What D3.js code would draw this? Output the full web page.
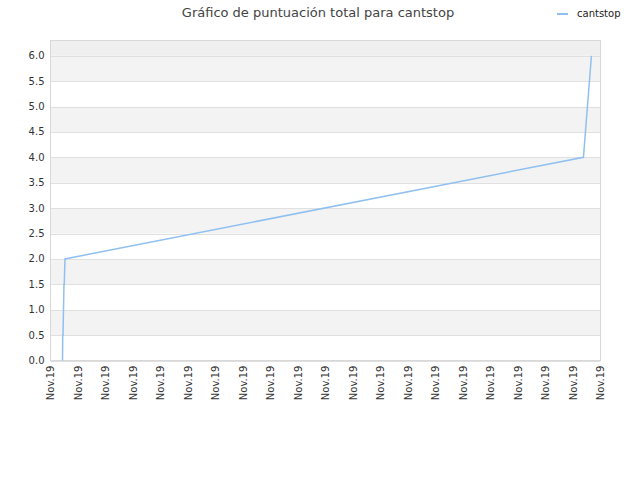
<!DOCTYPE html><html><head><meta charset="utf-8"><script src="https://cdn.jsdelivr.net/npm/d3@7"></script>
<style>body{margin:0;background:#fff}</style></head><body><script>
const tickLabels=d3.range(21).map(()=> "Nov.19");
const xPos=[0.436,0.445,0.455,0.49,0.5,0.527,19.38,19.67];
const yVals=[0,0.5,0.5,1.5,1.5,2,4,6];
const W=640,H=480,m={l:50.5,t:40.5,r:600.5,b:360.5};
const svg=d3.select("body").append("svg").attr("width",W).attr("height",H).style("font-family","DejaVu Sans, sans-serif");
const x=d3.scaleLinear().domain([0,20]).range([m.l,m.r]);
const y=d3.scaleLinear().domain([0,6.3]).range([m.b,m.t]);
svg.append("rect").attr("x",m.l).attr("y",m.t).attr("width",m.r-m.l).attr("height",y(6)-m.t).attr("fill","#efefef");
const bands=d3.range(0,6,0.5);
bands.forEach((v,i)=>{svg.append("rect").attr("x",m.l).attr("y",y(v+0.5)).attr("width",m.r-m.l).attr("height",y(v)-y(v+0.5)).attr("fill",i%2?"#f3f3f3":"#fff");});
const yt=d3.range(0,6.01,0.5);
yt.forEach(v=>svg.append("line").attr("x1",m.l).attr("x2",m.r).attr("y1",Math.round(y(v))+0.5).attr("y2",Math.round(y(v))+0.5).attr("stroke","#e0e0e0"));
svg.append("rect").attr("x",m.l).attr("y",m.t).attr("width",m.r-m.l).attr("height",m.b-m.t).attr("fill","none").attr("stroke","#d8d8d8");
yt.forEach(v=>svg.append("text").attr("x",m.l-6).attr("y",y(v)+3.5).attr("text-anchor","end").attr("font-size",10).attr("fill","#333").text(v.toFixed(1)));
tickLabels.forEach((t,i)=>svg.append("text").attr("transform",`translate(${x(i)+3.5},${m.b+5}) rotate(-90)`).attr("text-anchor","end").attr("font-size",10).attr("fill","#333").text(t));
svg.append("path").datum(xPos.map((d,i)=>[d,yVals[i]])).attr("d",d3.line().x(d=>x(d[0])).y(d=>y(d[1]))).attr("fill","none").attr("stroke","#90c0f0").attr("stroke-width",1.5);
svg.append("text").attr("x",318).attr("y",17).attr("text-anchor","middle").attr("font-size",13).attr("fill","#444").text("Gráfico de puntuación total para cantstop");
svg.append("line").attr("x1",557).attr("x2",568).attr("y1",14).attr("y2",14).attr("stroke","#90c0f0").attr("stroke-width",2);
svg.append("text").attr("x",577).attr("y",17).attr("font-size",10).attr("fill","#222").text("cantstop");
</script></body></html>
